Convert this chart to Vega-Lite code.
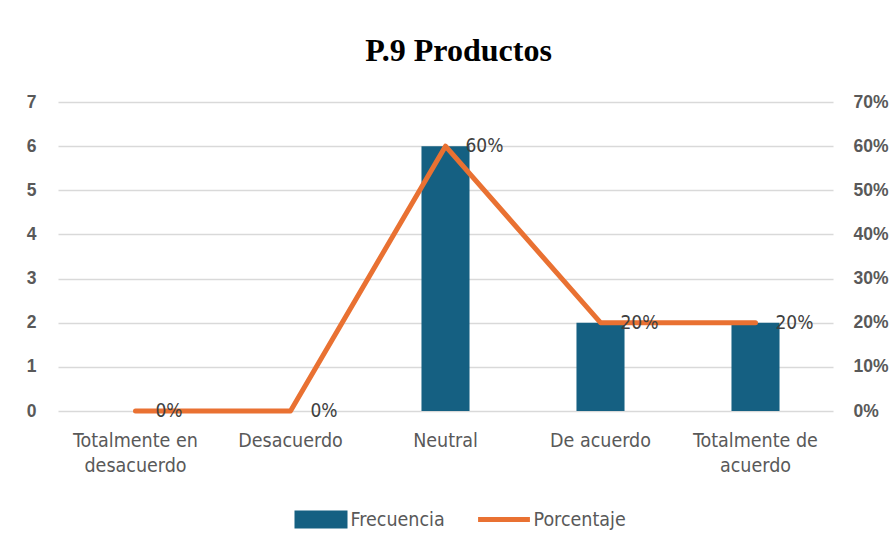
{
  "$schema": "https://vega.github.io/schema/vega-lite/v6.json",
  "autosize": {"type": "none"},
  "width": 775,
  "height": 309,
  "padding": {"left": 58, "top": 102, "right": 59, "bottom": 133},
  "background": "white",
  "title": {
    "text": "P.9 Productos",
    "font": "Liberation Serif",
    "fontSize": 32,
    "fontWeight": "bold",
    "color": "#000000",
    "anchor": "middle",
    "dx": 13,
    "offset": 25
  },
  "config": {
    "view": {"stroke": null},
    "axis": {"gridColor": "#D9D9D9", "gridWidth": 1.3, "domain": false, "ticks": false}
  },
  "data": {
    "values": [
      {"categoria": "Totalmente en desacuerdo", "frecuencia": 0, "porcentaje": 0},
      {"categoria": "Desacuerdo", "frecuencia": 0, "porcentaje": 0},
      {"categoria": "Neutral", "frecuencia": 6, "porcentaje": 0.6},
      {"categoria": "De acuerdo", "frecuencia": 2, "porcentaje": 0.2},
      {"categoria": "Totalmente de acuerdo", "frecuencia": 2, "porcentaje": 0.2}
    ]
  },
  "encoding": {
    "x": {
      "field": "categoria",
      "type": "nominal",
      "sort": null,
      "scale": {"paddingInner": 0.69, "paddingOuter": 0.345},
      "axis": {
        "title": null,
        "labelAngle": 0,
        "labelFont": "DejaVu Sans Condensed",
        "labelFontSize": 19.5,
        "labelColor": "#595959",
        "labelPadding": 20,
        "labelLineHeight": 25,
        "labelExpr": "datum.label == 'Totalmente en desacuerdo' ? ['Totalmente en', 'desacuerdo'] : datum.label == 'Totalmente de acuerdo' ? ['Totalmente de', 'acuerdo'] : datum.label",
        "grid": false
      }
    }
  },
  "layer": [
    {
      "mark": {"type": "bar"},
      "encoding": {
        "y": {
          "field": "frecuencia",
          "type": "quantitative",
          "scale": {"domain": [0, 7]},
          "axis": {
            "title": null,
            "values": [0, 1, 2, 3, 4, 5, 6, 7],
            "labelFont": "Liberation Sans",
            "labelFontWeight": "bold",
            "labelFontSize": 17.5,
            "labelColor": "#595959",
            "labelPadding": 22,
            "grid": true
          }
        },
        "color": {
          "datum": "Frecuencia",
          "type": "nominal",
          "scale": {"domain": ["Frecuencia", "Porcentaje"], "range": ["#156082", "#E97132"]},
          "legend": {
            "title": null,
            "orient": "none",
            "direction": "horizontal",
            "legendX": 236.5,
            "legendY": 391,
            "symbolSize": 2304,
            "columnPadding": 22,
            "labelFont": "DejaVu Sans Condensed",
            "labelFontSize": 19.5,
            "labelColor": "#595959",
            "labelOffset": 3,
            "encode": {
              "symbols": {
                "update": {
                  "shape": {"signal": "datum.value == 'Frecuencia' ? 'M-1,-0.27H1V0.27H-1Z' : 'M-1.08,0H1.08M0,-0.27L0,-0.27M0,0.27L0,0.27'"},
                  "fill": {"signal": "datum.value == 'Frecuencia' ? '#156082' : 'transparent'"},
                  "stroke": {"signal": "datum.value == 'Frecuencia' ? 'transparent' : '#E97132'"},
                  "strokeWidth": {"value": 5},
                  "strokeCap": {"value": "butt"},
                  "opacity": {"value": 1}
                }
              }
            }
          }
        }
      }
    },
    {
      "mark": {"type": "line", "strokeWidth": 5, "strokeCap": "round", "strokeJoin": "round"},
      "encoding": {
        "y": {
          "field": "porcentaje",
          "type": "quantitative",
          "scale": {"domain": [0, 0.7]},
          "axis": {
            "title": null,
            "orient": "right",
            "values": [0, 0.1, 0.2, 0.3, 0.4, 0.5, 0.6, 0.7],
            "format": ".0%",
            "labelFont": "Liberation Sans",
            "labelFontWeight": "bold",
            "labelFontSize": 17.5,
            "labelColor": "#595959",
            "labelPadding": 20,
            "grid": false
          }
        },
        "color": {"datum": "Porcentaje", "type": "nominal"}
      }
    },
    {
      "mark": {"type": "text", "align": "left", "baseline": "middle", "dx": 20, "font": "DejaVu Sans Condensed", "fontSize": 19, "color": "#404040"},
      "encoding": {
        "y": {"field": "porcentaje", "type": "quantitative", "scale": {"domain": [0, 0.7]}, "axis": null},
        "text": {"field": "porcentaje", "type": "quantitative", "format": ".0%"}
      }
    }
  ],
  "resolve": {"scale": {"y": "independent"}}
}
